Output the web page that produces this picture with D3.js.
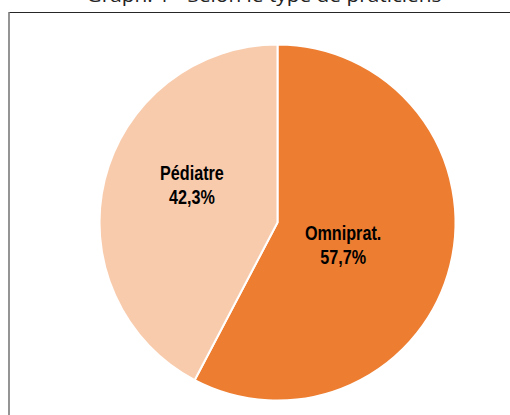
<!DOCTYPE html>
<html>
<head>
<meta charset="utf-8">
<script src="https://cdn.jsdelivr.net/npm/d3@7"></script>
<style>
  body { margin: 0; background: #fff; }
  svg { display: block; }
</style>
</head>
<body>
<svg></svg>
<script>
// Chart data
const categories = ['Omniprat.', 'Pédiatre'];
const shares = [57.7, 42.3];
const sliceColors = ['#ED7D31', '#F8CBAD'];
const title = 'Graph. 1 - Selon le type de praticiens';

const width = 510;
const height = 415;

const svg = d3.select('svg').attr('width', width).attr('height', height);

// Title, mostly cut off by the top edge
svg.append('text')
  .attr('x', 264)
  .attr('y', 2)
  .attr('text-anchor', 'middle')
  .attr('font-family', 'Open Sans, Liberation Sans, Arial, sans-serif')
  .attr('font-size', '19px')
  .attr('fill', '#222')
  .attr('textLength', 355)
  .attr('lengthAdjust', 'spacingAndGlyphs')
  .text(title);

// Chart frame: dark top edge, grey left edge
svg.append('line')
  .attr('x1', 9).attr('x2', width).attr('y1', 12.5).attr('y2', 12.5)
  .attr('stroke', '#262626').attr('stroke-width', 1.2);
svg.append('line')
  .attr('x1', 9).attr('x2', 9).attr('y1', 12).attr('y2', height)
  .attr('stroke', '#7a7a7a').attr('stroke-width', 1.6);

// Pie
const cx = 277.5;
const cy = 222.5;
const radius = 178;

const data = categories.map((c, i) => ({ name: c, value: shares[i], color: sliceColors[i] }));

const pie = d3.pie().value((d) => d.value).sort(null);
const arc = d3.arc().innerRadius(0).outerRadius(radius);

const g = svg.append('g').attr('transform', `translate(${cx},${cy})`);

g.selectAll('path')
  .data(pie(data))
  .join('path')
  .attr('d', arc)
  .attr('fill', (d) => d.data.color)
  .attr('stroke', '#fff')
  .attr('stroke-width', 2)
  .attr('stroke-linejoin', 'round');

// Labels, placed around centroid like the Excel best fit
const labelRadius = [0.42, 0.53];
const labelShift = [[-7, 4], [6, -15]];
const fmt = (v) => v.toFixed(1).replace('.', ',') + '%';

pie(data).forEach((d, i) => {
  const la = d3.arc().innerRadius(radius * labelRadius[i]).outerRadius(radius * labelRadius[i]);
  const [x, y] = la.centroid(d);
  // narrow bold look: squeeze regular bold font horizontally
  const t = g.append('text')
    .attr('transform', `translate(${x + labelShift[i][0]},${y + labelShift[i][1]}) scale(0.83,1)`)
    .attr('text-anchor', 'middle')
    .attr('font-family', 'Liberation Sans Narrow, Arial Narrow, Liberation Sans, sans-serif')
    .attr('font-weight', 'bold')
    .attr('font-size', '19.5px')
    .attr('fill', '#000');
  t.append('tspan').attr('x', 0).attr('dy', '-0.25em').text(d.data.name);
  t.append('tspan').attr('x', 0).attr('dy', '1.25em').text(fmt(d.data.value));
});
</script>
</body>
</html>
